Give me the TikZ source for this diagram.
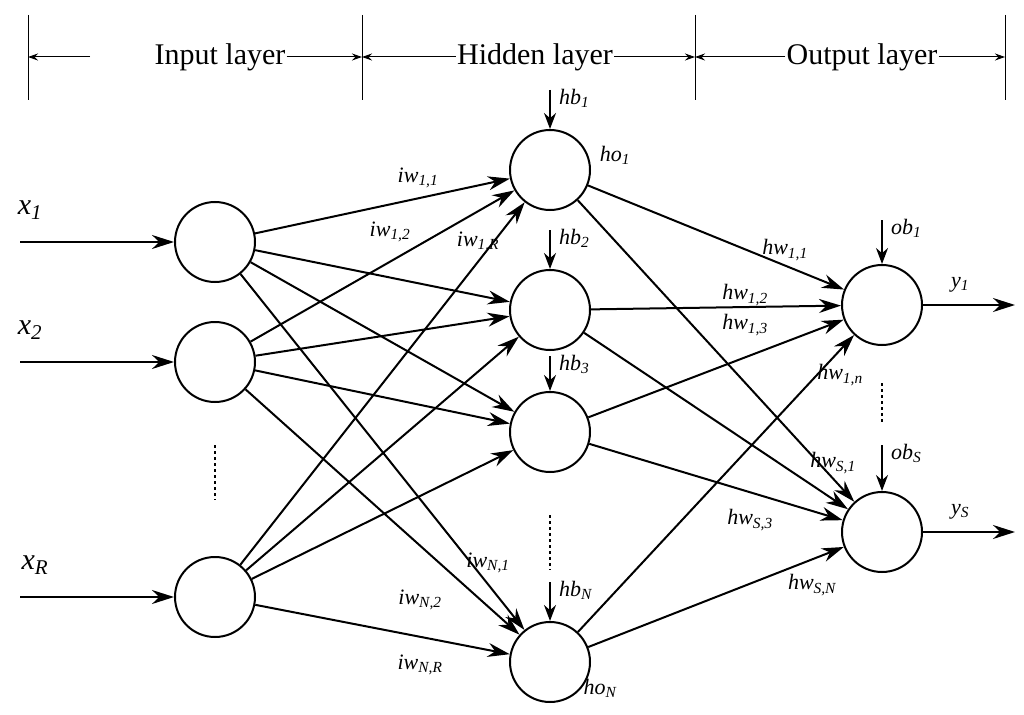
\documentclass[tikz,border=0pt]{standalone}
\usepackage{fontspec}
\setmainfont{Liberation Serif}
\usetikzlibrary{arrows.meta}
\begin{document}
\begin{tikzpicture}[x=1pt,y=-1pt,
neuron/.style={circle,draw=black,line width=2pt,minimum size=80pt,inner sep=0pt},
link/.style={line width=2pt,-{Stealth[length=22pt,width=14pt]}},
bias/.style={line width=2pt,-{Stealth[length=16pt,width=12pt]}},
wlab/.style={font=\fontsize{22}{24}\selectfont\itshape,inner sep=1pt},
inlab/.style={font=\fontsize{30}{32}\selectfont\itshape,inner sep=1pt},
head/.style={font=\fontsize{30}{32}\selectfont,inner sep=1pt},
dots/.style={line width=2pt,dash pattern=on 3pt off 3pt}
]
\useasboundingbox (0,0) rectangle (1024,714);
% header
\foreach \n/\x in {l0/28,l1/362,l2/695,l3/1005}{
  \coordinate (\n t) at (\x,15); \coordinate (\n b) at (\x,100);
  \draw[line width=1pt] (\n t) -- (\n b);}
\node[head] (hin) at (220,57) {Input layer};
\node[head] (hhid) at (535,57) {Hidden layer};
\node[head] (hout) at (862,57) {Output layer};
\coordinate (a0) at (28,57); \coordinate (a1) at (362,57);
\coordinate (a2) at (695,57); \coordinate (a3) at (1005,57);
\draw[line width=1pt,-{Stealth[length=10pt,width=7pt]}] (90,57) -- (a0);
\draw[line width=1pt,-{Stealth[length=10pt,width=7pt]}] (hin.east) -- (a1);
\draw[line width=1pt,-{Stealth[length=10pt,width=7pt]}] (hhid.west) -- (a1);
\draw[line width=1pt,-{Stealth[length=10pt,width=7pt]}] (hhid.east) -- (a2);
\draw[line width=1pt,-{Stealth[length=10pt,width=7pt]}] (hout.west) -- (a2);
\draw[line width=1pt,-{Stealth[length=10pt,width=7pt]}] (hout.east) -- (a3);
% neurons
\node[neuron] (i1) at (215,242) {};
\node[neuron] (i2) at (215,362) {};
\node[neuron] (iR) at (215,597) {};
\node[neuron] (h1) at (550,170) {};
\node[neuron] (h2) at (550,310) {};
\node[neuron] (h3) at (550,432) {};
\node[neuron] (hN) at (550,662) {};
\node[neuron] (o1) at (882,305) {};
\node[neuron] (oS) at (882,532) {};
% inputs
\foreach \i/\y in {1/242,2/362,R/597}{
  \coordinate (x\i) at (20,\y);
  \draw[link] (x\i) -- (i\i);}
\node[inlab] (lx1) at (30,210) {x\textsubscript{1}};
\node[inlab] (lx2) at (30,330) {x\textsubscript{2}};
\node[inlab] (lxR) at (35,565) {x\textsubscript{R}};
% connections
\foreach \i in {1,2,R}{
  \foreach \h in {1,2,3,N}{
    \draw[link] (i\i) -- (h\h);}}
\foreach \h in {1,2,3,N}{
  \foreach \o in {1,S}{
    \draw[link] (h\h) -- (o\o);}}
% outputs
\coordinate (y1) at (1015,305); \coordinate (yS) at (1015,532);
\draw[link] (o1) -- (y1);
\draw[link] (oS) -- (yS);
\node[wlab] (ly1) at (960,285) {y\textsubscript{1}};
\node[wlab] (lyS) at (960,512) {y\textsubscript{S}};
% biases
\foreach \n/\y/\t in {h1/90/hb\textsubscript{1},h2/230/hb\textsubscript{2},h3/356/hb\textsubscript{3},hN/582/hb\textsubscript{N}}{
  \coordinate (b\n) at (550,\y);
  \draw[bias] (b\n) -- (\n);
  \node[wlab,anchor=west] at (558,\y+8) {\t};}
\foreach \n/\y/\t in {o1/220/ob\textsubscript{1},oS/445/ob\textsubscript{S}}{
  \coordinate (b\n) at (882,\y);
  \draw[bias] (b\n) -- (\n);
  \node[wlab,anchor=west] at (890,\y+8) {\t};}
% dots
\draw[dots] (215,445) -- (215,500);
\draw[dots] (550,515) -- (550,570);
\draw[dots] (882,383) -- (882,425);
% labels
\node[wlab] at (418,178) {iw\textsubscript{1,1}};
\node[wlab] at (390,232) {iw\textsubscript{1,2}};
\node[wlab] at (478,242) {iw\textsubscript{1,R}};
\node[wlab] at (488,563) {iw\textsubscript{N,1}};
\node[wlab] at (420,600) {iw\textsubscript{N,2}};
\node[wlab] at (420,665) {iw\textsubscript{N,R}};
\node[wlab] at (615,155) {ho\textsubscript{1}};
\node[wlab] at (600,688) {ho\textsubscript{N}};
\node[wlab] at (785,250) {hw\textsubscript{1,1}};
\node[wlab] at (745,295) {hw\textsubscript{1,2}};
\node[wlab] at (745,325) {hw\textsubscript{1,3}};
\node[wlab] at (840,375) {hw\textsubscript{1,n}};
\node[wlab] at (833,463) {hw\textsubscript{S,1}};
\node[wlab] at (750,520) {hw\textsubscript{S,3}};
\node[wlab] at (812,585) {hw\textsubscript{S,N}};
\end{tikzpicture}
\end{document}
